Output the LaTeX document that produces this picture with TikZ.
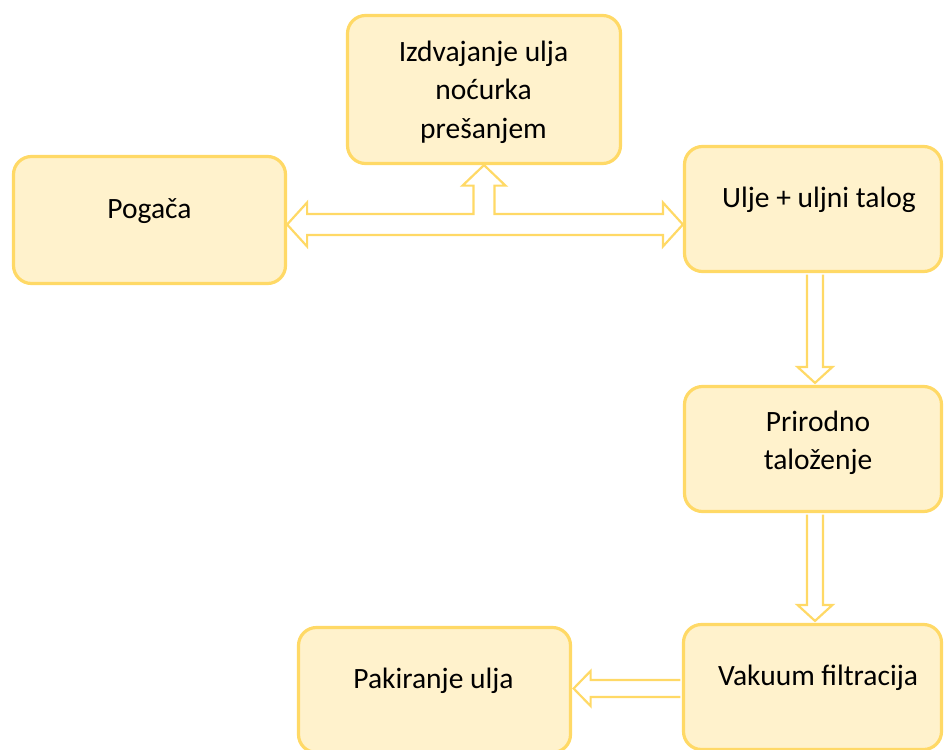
\documentclass[tikz,border=0pt]{standalone}
\usepackage{fontspec}
\setmainfont{Carlito}
\usetikzlibrary{calc}
\definecolor{bord}{HTML}{FFD966}
\definecolor{boxfill}{HTML}{FFF2CC}
\begin{document}
\begin{tikzpicture}[x=1pt,y=-1pt,
  procbox/.style={draw=bord, fill=boxfill, line width=3.2pt, rounded corners=18pt, inner sep=0pt},
  lbl/.style={anchor=base, inner sep=0pt, font=\fontsize{29.5}{35}\selectfont, text=black},
  blk/.style={draw=bord, line width=2.2pt, line join=miter}]
\useasboundingbox (0,0) rectangle (944,749);
\clip (0,0) rectangle (944,749);
% boxes
\node[procbox, minimum width=272pt, minimum height=127pt] (pog) at (149.5,220) {};
\node[procbox, minimum width=273pt, minimum height=148pt] (izd) at (484,89.5) {};
\node[procbox, minimum width=257pt, minimum height=125pt] (ulje) at (813,209) {};
\node[procbox, minimum width=257pt, minimum height=125pt] (prir) at (813,449) {};
\node[procbox, minimum width=258pt, minimum height=125pt] (vak) at (812.5,687) {};
\node[procbox, minimum width=272pt, minimum height=125pt] (pak) at (434.5,690) {};
% labels
\node[lbl] (tpog) at (149.5,218) {Pogača};
\node[lbl] (tizd1) at (483.5,62) {Izdvajanje ulja};
\node[lbl] (tizd2) at (483.5,100) {noćurka};
\node[lbl] (tizd3) at (483.5,138.5) {prešanjem};
\node[lbl] (tulje) at (819,207) {Ulje + uljni talog};
\node[lbl] (tprir1) at (818,431) {Prirodno};
\node[lbl] (tprir2) at (818,469) {taloženje};
\node[lbl] (tvak) at (818,685) {Vakuum filtracija};
\node[lbl] (tpak) at (433.5,688) {Pakiranje ulja};
% T-shaped block arrow
\coordinate (hm) at (0,224.5);
\coordinate (A) at (pog.east |- hm);
\coordinate (B) at (ulje.west |- hm);
\coordinate (T) at (izd.south |- hm);
\draw[blk] (A) -- ($(A)+(20,-22)$) -- ($(A)+(20,-10.5)$)
  -- ($(T)+(-10.5,-10.5)$) -- ($(izd.south)+(-10.5,20.5)$) -- ($(izd.south)+(-21.5,20.5)$)
  -- (izd.south) -- ($(izd.south)+(21.5,20.5)$) -- ($(izd.south)+(10.5,20.5)$)
  -- ($(T)+(10.5,-10.5)$) -- ($(B)+(-20,-10.5)$) -- ($(B)+(-20,-22)$) -- (B)
  -- ($(B)+(-20,22)$) -- ($(B)+(-20,10.5)$) -- ($(A)+(20,10.5)$) -- ($(A)+(20,22)$) -- cycle;
% down arrow 1
\coordinate (D1) at ($(ulje.south)+(2,1.5)$);
\coordinate (E1) at ($(prir.north)+(2,-2)$);
\draw[blk] ($(D1)+(-8,0)$) -- ($(E1)+(-8,-16)$) -- ($(E1)+(-17.5,-16)$) -- (E1)
  -- ($(E1)+(17.5,-16)$) -- ($(E1)+(8,-16)$) -- ($(D1)+(8,0)$);
% down arrow 2
\coordinate (D2) at ($(prir.south)+(2,1.5)$);
\coordinate (E2) at ($(vak.north)+(2.5,-2)$);
\draw[blk] ($(D2)+(-8,0)$) -- ($(E2)+(-8,-16)$) -- ($(E2)+(-17.5,-16)$) -- (E2)
  -- ($(E2)+(17.5,-16)$) -- ($(E2)+(8,-16)$) -- ($(D2)+(8,0)$);
% left arrow
\coordinate (vm) at (0,688.5);
\coordinate (F) at ($(vak.west |- vm)+(-1.5,0)$);
\coordinate (G) at ($(pak.east |- vm)+(1.5,0)$);
\draw[blk] ($(F)+(0,-8.5)$) -- ($(G)+(17,-8.5)$) -- ($(G)+(17,-17.5)$) -- (G)
  -- ($(G)+(17,17.5)$) -- ($(G)+(17,8.5)$) -- ($(F)+(0,8.5)$);
\end{tikzpicture}
\end{document}
